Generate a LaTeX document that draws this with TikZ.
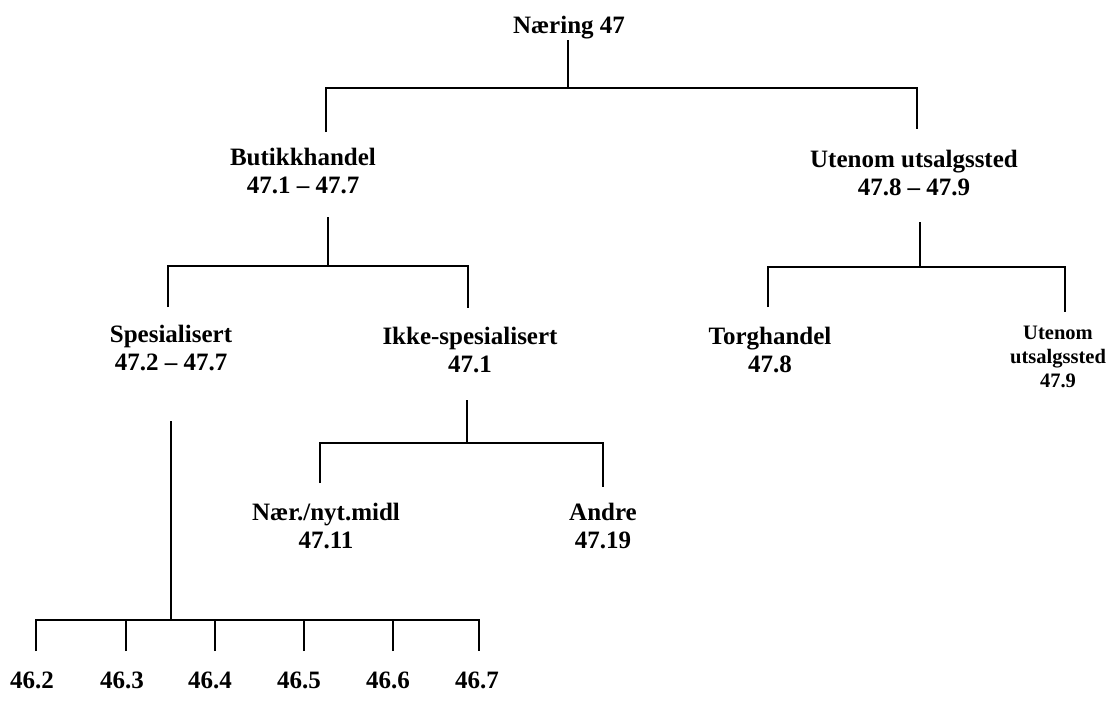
\documentclass[tikz,border=0pt]{standalone}
\usepackage{fontspec}
\setmainfont{Liberation Serif}
\begin{document}
\begin{tikzpicture}[x=0.75pt,y=0.75pt,yscale=-1,xscale=1,
  lbl/.style={font=\bfseries\fontsize{18.75}{21}\selectfont, align=center, anchor=base, inner sep=0pt},
  lblsmall/.style={font=\bfseries\fontsize{15.4}{18}\selectfont, align=center, anchor=base, inner sep=0pt},
  tree/.style={line width=1.1pt}]
\useasboundingbox (0,0) rectangle (1109,700);

% Text Node
\node [lbl] (naering) at (569,33) {Næring 47};
% Text Node
\node [lbl] (butikk) at (303,193) {Butikkhandel\\47.1 – 47.7};
% Text Node
\node [lbl] (utenom) at (914,195) {Utenom utsalgssted\\47.8 – 47.9};
% Text Node
\node [lbl] (spes) at (171,370) {Spesialisert\\47.2 – 47.7};
% Text Node
\node [lbl] (ikke) at (470,372) {Ikke-spesialisert\\47.1};
% Text Node
\node [lbl] (torg) at (770,372) {Torghandel\\47.8};
% Text Node
\node [lblsmall] (utenomb) at (1058,387) {Utenom\\utsalgssted\\47.9};
% Text Node
\node [lbl] (naer) at (326,548) {Nær./nyt.midl\\47.11};
% Text Node
\node [lbl] (andre) at (603,548) {Andre\\47.19};

% stub ends
\coordinate (naering-s) at (568,40);
\coordinate (j0) at (568,88);
\coordinate (butikk-n) at (326,132);
\coordinate (utenom-n) at (917,129);
\coordinate (butikk-s) at (328,217);
\coordinate (j1) at (328,266);
\coordinate (spes-n) at (168,307);
\coordinate (ikke-n) at (468,308);
\coordinate (utenom-s) at (920,222);
\coordinate (j2) at (920,267);
\coordinate (torg-n) at (768,307);
\coordinate (utenomb-n) at (1065,312);
\coordinate (ikke-s) at (467,400);
\coordinate (j3) at (467,443);
\coordinate (naer-n) at (320,483);
\coordinate (andre-n) at (603,487);
\coordinate (spes-s) at (171,421);
\coordinate (j4) at (171,620);

%Straight Lines
\draw [tree] (naering-s) -- (j0);
\draw [tree] (butikk-n) |- (j0) -| (utenom-n);
%Straight Lines
\draw [tree] (butikk-s) -- (j1);
\draw [tree] (spes-n) |- (j1) -| (ikke-n);
%Straight Lines
\draw [tree] (utenom-s) -- (j2);
\draw [tree] (torg-n) |- (j2) -| (utenomb-n);
%Straight Lines
\draw [tree] (ikke-s) -- (j3);
\draw [tree] (naer-n) |- (j3) -| (andre-n);
%Straight Lines
\draw [tree] (spes-s) -- (j4);

% leaves 46.x
\foreach \tx/\cx/\lab [count=\i] in {36/32/46.2,126/122/46.3,215/210/46.4,304/299/46.5,393/388/46.6,479/477/46.7}{
  \coordinate (tick\i) at (\tx,651);
  \node [lbl] (leaf\i) at (\cx,688) {\lab};
}
\draw [tree] (tick1) |- (j4) -| (tick6);
\foreach \i in {2,...,5}{
  \draw [tree] (tick\i) -- (tick\i |- j4);
}

\end{tikzpicture}
\end{document}
